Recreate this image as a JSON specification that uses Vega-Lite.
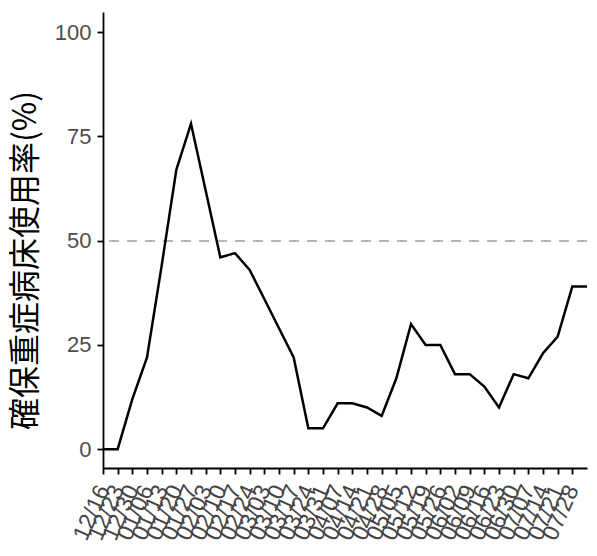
{
  "$schema": "https://vega.github.io/schema/vega-lite/v6.json",
  "width": 484,
  "height": 456,
  "autosize": {"type": "none"},
  "padding": {"left": 103, "top": 12, "right": 10, "bottom": 88},
  "background": "white",
  "config": {"view": {"stroke": null}, "font": "Liberation Sans"},
  "data": {"values": [
    {"date": "2020-12-16T00:00:00", "rate": 0},
    {"date": "2020-12-23T00:00:00", "rate": 0},
    {"date": "2020-12-30T00:00:00", "rate": 12},
    {"date": "2021-01-06T00:00:00", "rate": 22},
    {"date": "2021-01-13T00:00:00", "rate": 44},
    {"date": "2021-01-20T00:00:00", "rate": 67},
    {"date": "2021-01-27T00:00:00", "rate": 78},
    {"date": "2021-02-03T00:00:00", "rate": 62},
    {"date": "2021-02-10T00:00:00", "rate": 46},
    {"date": "2021-02-17T00:00:00", "rate": 47},
    {"date": "2021-02-24T00:00:00", "rate": 43},
    {"date": "2021-03-03T00:00:00", "rate": 36},
    {"date": "2021-03-10T00:00:00", "rate": 29},
    {"date": "2021-03-17T00:00:00", "rate": 22},
    {"date": "2021-03-24T00:00:00", "rate": 5},
    {"date": "2021-03-31T00:00:00", "rate": 5},
    {"date": "2021-04-07T00:00:00", "rate": 11},
    {"date": "2021-04-14T00:00:00", "rate": 11},
    {"date": "2021-04-21T00:00:00", "rate": 10},
    {"date": "2021-04-28T00:00:00", "rate": 8},
    {"date": "2021-05-05T00:00:00", "rate": 17},
    {"date": "2021-05-12T00:00:00", "rate": 30},
    {"date": "2021-05-19T00:00:00", "rate": 25},
    {"date": "2021-05-26T00:00:00", "rate": 25},
    {"date": "2021-06-02T00:00:00", "rate": 18},
    {"date": "2021-06-09T00:00:00", "rate": 18},
    {"date": "2021-06-16T00:00:00", "rate": 15},
    {"date": "2021-06-23T00:00:00", "rate": 10},
    {"date": "2021-06-30T00:00:00", "rate": 18},
    {"date": "2021-07-07T00:00:00", "rate": 17},
    {"date": "2021-07-14T00:00:00", "rate": 23},
    {"date": "2021-07-21T00:00:00", "rate": 27},
    {"date": "2021-07-28T00:00:00", "rate": 39},
    {"date": "2021-08-04T00:00:00", "rate": 39}
  ]},
  "layer": [
    {
      "mark": {"type": "rule", "color": "#b5b5b5", "strokeWidth": 1.5, "strokeDash": [10, 8]},
      "encoding": {"y": {"datum": 50, "type": "quantitative"}}
    },
    {
      "mark": {"type": "line", "color": "black", "strokeWidth": 2.5},
      "encoding": {
        "x": {
          "field": "date", "type": "temporal",
          "scale": {"domain": [{"year": 2020, "month": 12, "date": 16}, {"year": 2021, "month": 8, "date": 4}], "nice": false},
          "axis": {
            "title": null,
            "format": "%m/%d",
            "values": [
              {"year": 2020, "month": 12, "date": 16}, {"year": 2020, "month": 12, "date": 23}, {"year": 2020, "month": 12, "date": 30},
              {"year": 2021, "month": 1, "date": 6}, {"year": 2021, "month": 1, "date": 13}, {"year": 2021, "month": 1, "date": 20}, {"year": 2021, "month": 1, "date": 27},
              {"year": 2021, "month": 2, "date": 3}, {"year": 2021, "month": 2, "date": 10}, {"year": 2021, "month": 2, "date": 17}, {"year": 2021, "month": 2, "date": 24},
              {"year": 2021, "month": 3, "date": 3}, {"year": 2021, "month": 3, "date": 10}, {"year": 2021, "month": 3, "date": 17}, {"year": 2021, "month": 3, "date": 24}, {"year": 2021, "month": 3, "date": 31},
              {"year": 2021, "month": 4, "date": 7}, {"year": 2021, "month": 4, "date": 14}, {"year": 2021, "month": 4, "date": 21}, {"year": 2021, "month": 4, "date": 28},
              {"year": 2021, "month": 5, "date": 5}, {"year": 2021, "month": 5, "date": 12}, {"year": 2021, "month": 5, "date": 19}, {"year": 2021, "month": 5, "date": 26},
              {"year": 2021, "month": 6, "date": 2}, {"year": 2021, "month": 6, "date": 9}, {"year": 2021, "month": 6, "date": 16}, {"year": 2021, "month": 6, "date": 23}, {"year": 2021, "month": 6, "date": 30},
              {"year": 2021, "month": 7, "date": 7}, {"year": 2021, "month": 7, "date": 14}, {"year": 2021, "month": 7, "date": 21}, {"year": 2021, "month": 7, "date": 28}
            ],
            "labelAngle": -66,
            "labelAlign": "right",
            "labelBaseline": "middle",
            "labelFontSize": 23,
            "labelColor": "#444444",
            "labelOverlap": false,
            "labelPadding": 12,
            "labelDx": 4,
            "labelFlush": false,
            "grid": false,
            "domainColor": "black",
            "domainWidth": 1.8,
            "tickColor": "black",
            "tickWidth": 1.8,
            "tickSize": 6
          }
        },
        "y": {
          "field": "rate", "type": "quantitative",
          "scale": {"domain": [-4.5, 104.8], "nice": false, "zero": false},
          "axis": {
            "title": "確保重症病床使用率(%)",
            "titleFont": "Noto Sans CJK JP",
            "titleFontSize": 32,
            "titleFontWeight": "normal",
            "titleColor": "black",
            "titlePadding": 12,
            "titleY": 248,
            "values": [0, 25, 50, 75, 100],
            "labelFontSize": 22,
            "labelColor": "#4d4d4d",
            "labelPadding": 6,
            "grid": false,
            "domainColor": "black",
            "domainWidth": 1.8,
            "tickColor": "black",
            "tickWidth": 1.8,
            "tickSize": 6
          }
        }
      }
    }
  ]
}
